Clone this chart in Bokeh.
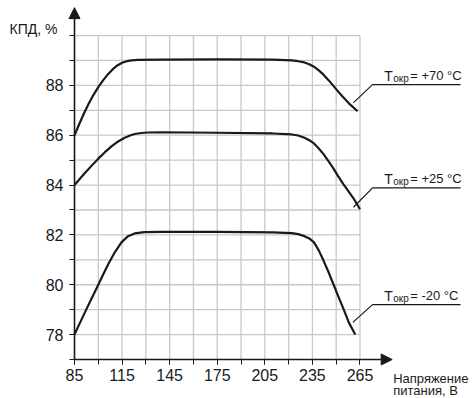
from bokeh.plotting import figure
from bokeh.models import Range1d, FixedTicker, Arrow, NormalHead, Label, LinearAxis
from bokeh.embed import file_html
from bokeh.resources import INLINE

# ---------------- data ----------------
x_major = [85, 115, 145, 175, 205, 235, 265]
x_grid = [85, 100, 115, 130, 145, 160, 175, 190, 205, 220, 235, 250, 265]
y_major = [78, 80, 82, 84, 86, 88]
y_grid = [77, 78, 79, 80, 81, 82, 83, 84, 85, 86, 87, 88, 89, 90]

x_70 = [85, 88, 91, 94, 97, 100, 103, 106, 109, 112, 115, 118, 121, 125, 140, 175,
        210, 222, 226, 230, 233, 236, 239, 242, 245, 248, 251, 254, 258, 263.5]
y_70 = [86.0, 86.45, 86.88, 87.27, 87.62, 87.93, 88.2, 88.44, 88.64, 88.8, 88.91, 88.97,
        89.0, 89.02, 89.03, 89.04, 89.03, 89.0, 88.97, 88.92, 88.85, 88.75, 88.6,
        88.43, 88.22, 88.0, 87.77, 87.55, 87.28, 86.96]

x_25 = [85, 88, 91.7, 96, 100, 104, 108.3, 112.5, 116.7, 120, 123, 127, 131, 140, 175,
        210, 222, 226, 230, 233, 236, 239, 242, 245, 248, 251, 254.5, 258, 261, 265]
y_25 = [84.0, 84.22, 84.49, 84.79, 85.06, 85.31, 85.55, 85.75, 85.9, 85.99, 86.05,
        86.09, 86.11, 86.12, 86.1, 86.07, 86.03, 85.99, 85.9, 85.8, 85.67, 85.47,
        85.24, 84.97, 84.69, 84.38, 84.04, 83.73, 83.46, 83.03]

x_m20 = [85, 88, 91.7, 96, 100, 103, 106.25, 110.4, 114.6, 118.75, 122.9, 129, 140, 175,
         210, 222, 226, 230, 233, 236, 239, 242, 245, 248.4, 251.5, 254.6, 258, 262]
y_m20 = [78.0, 78.41, 78.91, 79.48, 80.0, 80.4, 80.82, 81.3, 81.7, 81.95, 82.06,
         82.11, 82.12, 82.12, 82.1, 82.07, 82.03, 81.95, 81.86, 81.7, 81.38, 80.97,
         80.53, 80.0, 79.5, 79.03, 78.48, 78.0]

series_labels = ["+70 °C", "+25 °C", "-20 °C"]

# leader lines (annotation geometry)
leader_x = [[260.9, 272.9, 328.4], [260.9, 272.9, 328.4], [260.5, 272.9, 328.4]]
leader_y = [[87.31, 88.03, 88.03], [83.11, 83.89, 83.89], [78.49, 79.2, 79.2]]

# ---------------- figure ----------------
FONT = "Liberation Sans"
INK = "#1a1a1a"

p = figure(width=475, height=398, output_backend="svg", toolbar_location=None,
           x_range=Range1d(38.34, 337.83), y_range=Range1d(75.435, 91.406),
           x_axis_type=None, y_axis_type=None,
           min_border_left=0, min_border_right=0, min_border_top=0,
           min_border_bottom=0)
p.outline_line_color = None
p.background_fill_color = "white"
p.border_fill_color = "white"

# grid
p.segment(x0=x_grid[1:], y0=[y_grid[0]] * (len(x_grid) - 1),
          x1=x_grid[1:], y1=[y_grid[-1]] * (len(x_grid) - 1),
          line_color="#c8c8c8", line_width=1.3)
p.segment(x0=[x_grid[0]] * (len(y_grid) - 1), y0=y_grid[1:],
          x1=[x_grid[-1]] * (len(y_grid) - 1), y1=y_grid[1:],
          line_color="#c8c8c8", line_width=1.3)

# curves
for xs, ys in [(x_70, y_70), (x_25, y_25), (x_m20, y_m20)]:
    p.line(xs, ys, line_color=INK, line_width=2.2, line_join="round")

# leaders
p.multi_line(leader_x, leader_y, line_color=INK, line_width=1.2)

# axes at fixed locations inside the frame
xax = LinearAxis(fixed_location=y_grid[0])
yax = LinearAxis(fixed_location=x_grid[0])
p.add_layout(xax, "below")
p.add_layout(yax, "left")
for ax, maj, mnr in [(xax, x_major, x_grid), (yax, y_major, y_grid)]:
    ax.ticker = FixedTicker(ticks=maj, minor_ticks=mnr)
    ax.axis_line_color = None
    ax.major_tick_out = 5
    ax.major_tick_in = 0
    ax.minor_tick_out = 5
    ax.minor_tick_in = 0
    ax.major_tick_line_color = INK
    ax.minor_tick_line_color = INK
    ax.major_label_text_font = FONT
    ax.major_label_text_font_size = "16px"
    ax.major_label_text_color = INK
xax.major_label_standoff = 5
yax.major_label_standoff = 6

p.add_layout(Arrow(end=NormalHead(size=11, fill_color=INK, line_color=INK),
                   x_start=x_grid[0], y_start=y_grid[0], x_end=285.3, y_end=y_grid[0],
                   line_color=INK, line_width=1.6))
p.add_layout(Arrow(end=NormalHead(size=11, fill_color=INK, line_color=INK),
                   x_start=x_grid[0], y_start=y_grid[0], x_end=x_grid[0], y_end=91.12,
                   line_color=INK, line_width=1.6))

# axis titles
p.add_layout(Label(x=85, y=90, x_offset=-17, y_offset=7, text="КПД, %",
                   text_font=FONT, text_font_size="14px", text_color=INK,
                   text_align="right", text_baseline="alphabetic"))
p.add_layout(Label(x=285.9, y=77, y_offset=-19, text="Напряжение",
                   text_font=FONT, text_font_size="13px", text_color=INK,
                   text_align="left", text_baseline="alphabetic"))
p.add_layout(Label(x=285.9, y=77, y_offset=-31, text="питания, В",
                   text_font=FONT, text_font_size="13px", text_color=INK,
                   text_align="left", text_baseline="alphabetic"))

# series labels
for lab, lx, ly in zip(series_labels, leader_x, leader_y):
    p.add_layout(Label(x=280.3, y=ly[-1], y_offset=9, text="T",
                       text_font=FONT, text_font_size="14px", text_color=INK,
                       text_baseline="alphabetic"))
    p.add_layout(Label(x=280.3, y=ly[-1], x_offset=9, y_offset=6, text="окр",
                       text_font=FONT, text_font_size="10px", text_color=INK,
                       text_baseline="alphabetic"))
    p.add_layout(Label(x=280.3, y=ly[-1], x_offset=26, y_offset=9, text="= " + lab,
                       text_font=FONT, text_font_size="13px", text_color=INK,
                       text_baseline="alphabetic"))

open("out.html", "w").write(file_html(p, INLINE))
